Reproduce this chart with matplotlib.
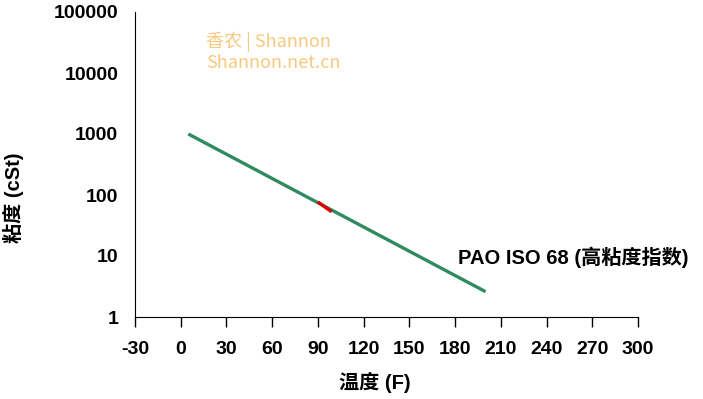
import matplotlib.pyplot as plt
from matplotlib.ticker import FixedLocator, FixedFormatter

plt.rcParams['font.family'] = ['Liberation Sans', 'Noto Sans CJK SC']

# PAO ISO 68 viscosity vs temperature
temp_f = [5, 200]
visc_cst = [1000, 2.6]

# short red highlight segment around 90-100 F
red_temp = [90, 99]
red_visc = [77, 53]

x_ticks = list(range(-30, 301, 30))
y_ticks = [1, 10, 100, 1000, 10000, 100000]
y_labels = ["1", "10", "100", "1000", "10000", "100000"]

fig = plt.figure(figsize=(7.03, 3.99), dpi=100)
ax = fig.add_axes([135 / 703, 1 - 317 / 399, (638 - 135) / 703, (317 - 12) / 399])

ax.plot(temp_f, visc_cst, color="#2E8B5F", lw=2.4, solid_capstyle="butt")
ax.plot(red_temp, red_visc, color="#E00000", lw=2.4, solid_capstyle="butt")

ax.set_yscale("log")
ax.set_xlim(-30, 300)
ax.set_ylim(1, 100000)
ax.set_xticks(x_ticks)
ax.set_xticklabels([str(t) for t in x_ticks])
ax.yaxis.set_major_locator(FixedLocator(y_ticks))
ax.yaxis.set_major_formatter(FixedFormatter(y_labels))
ax.yaxis.set_minor_locator(FixedLocator([]))

ax.spines["top"].set_visible(False)
ax.spines["right"].set_visible(False)
ax.tick_params(axis="x", direction="out", length=7, width=1, pad=10,
               labelsize=14)
ax.tick_params(axis="y", length=0, pad=12, labelsize=14)
for lab in ax.get_xticklabels() + ax.get_yticklabels():
    lab.set_fontweight("bold")

ax.set_xlabel("温度 (F)", fontsize=14.5, fontweight="bold", va="center")
ax.xaxis.set_label_coords((375 - 135) / 503, (317 - 382) / 305)
ax.set_ylabel("粘度 (cSt)", fontsize=14.5, fontweight="bold", va="center")
ax.yaxis.set_label_coords((13 - 135) / 503, (317 - 198) / 305)

ax.text(458 / 703, 1 - 257 / 399, "PAO ISO 68 (高粘度指数)", transform=fig.transFigure,
        fontsize=14.5, fontweight="bold", ha="left", va="center")

ax.text(206 / 703, 1 - 42 / 399, "香农 | Shannon", transform=fig.transFigure,
        fontsize=13, color="#F7C97E", ha="left", va="center",
        family=["Noto Sans CJK SC"])
ax.text(206 / 703, 1 - 63 / 399, "Shannon.net.cn", transform=fig.transFigure,
        fontsize=13, color="#F7C97E", ha="left", va="center",
        family=["Noto Sans CJK SC"])

fig.savefig("out.png", dpi=100)
